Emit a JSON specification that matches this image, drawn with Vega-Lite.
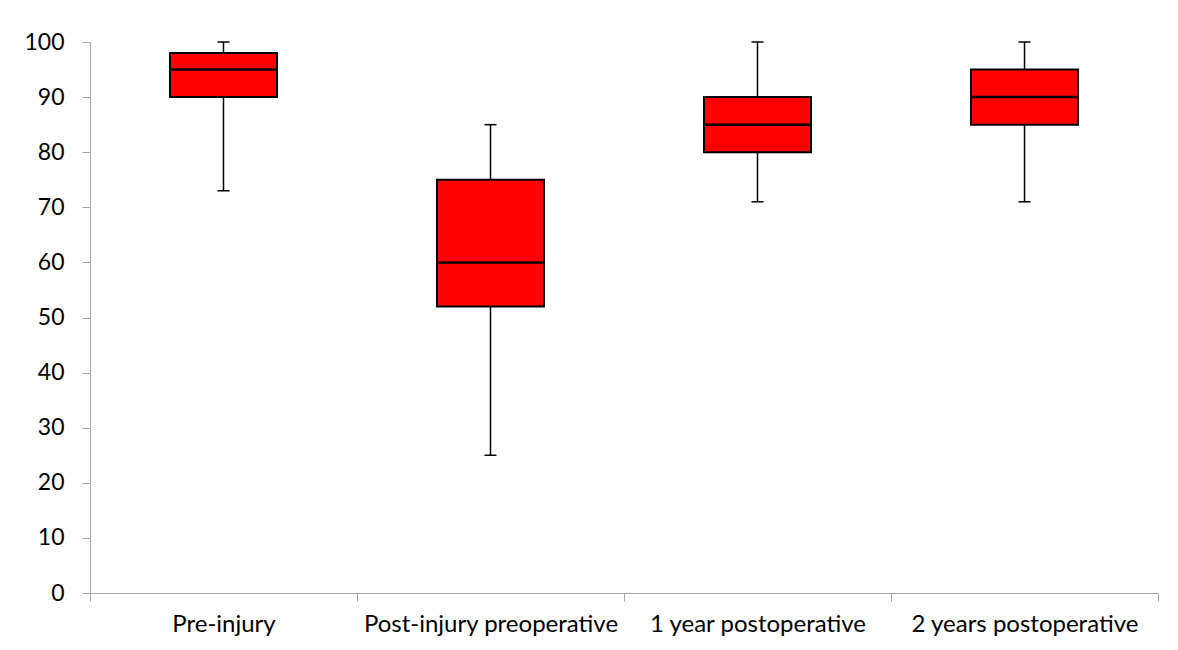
{
  "$schema": "https://vega.github.io/schema/vega-lite/v6.json",
  "autosize": {"type": "none"},
  "padding": {"left": 90, "top": 42, "right": 20, "bottom": 57},
  "width": 1068,
  "height": 551,
  "background": "white",
  "config": {
    "view": {"stroke": null},
    "font": "Lato",
    "axis": {"grid": false, "labelFont": "Lato", "labelColor": "black", "labelFontSize": 23, "labelLimit": 0, "domainColor": "#a6a6a6", "tickColor": "#a6a6a6", "tickSize": 8, "title": null}
  },
  "data": {
    "values": [
      {"cat": "Pre-injury", "min": 73, "q1": 90, "median": 95, "q3": 98, "max": 100},
      {"cat": "Post-injury preoperative", "min": 25, "q1": 52, "median": 60, "q3": 75, "max": 85},
      {"cat": "1 year postoperative", "min": 71, "q1": 80, "median": 85, "q3": 90, "max": 100},
      {"cat": "2 years postoperative", "min": 71, "q1": 85, "median": 90, "q3": 95, "max": 100}
    ]
  },
  "encoding": {
    "x": {
      "field": "cat", "type": "nominal", "sort": null,
      "scale": {"paddingInner": 0, "paddingOuter": 0},
      "axis": {"labelAngle": 0, "tickBand": "extent", "labelPadding": 11, "labelFontSize": 24, "domainWidth": 1, "tickWidth": 1}
    }
  },
  "layer": [
    {
      "mark": {"type": "rule", "color": "black", "strokeWidth": 1.5},
      "encoding": {
        "y": {"field": "min", "type": "quantitative", "scale": {"domain": [0, 100], "nice": false},
          "axis": {"values": [0,10,20,30,40,50,60,70,80,90,100], "labelPadding": 18, "domainWidth": 1, "tickWidth": 1}},
        "y2": {"field": "max"}
      }
    },
    {
      "mark": {"type": "bar", "size": 107, "fill": "#ff0000", "stroke": "black", "strokeWidth": 2},
      "encoding": {
        "y": {"field": "q1", "type": "quantitative"},
        "y2": {"field": "q3"}
      }
    },
    {
      "mark": {"type": "tick", "size": 107, "thickness": 2.5, "color": "black", "opacity": 1},
      "encoding": {"y": {"field": "median", "type": "quantitative"}}
    },
    {
      "mark": {"type": "tick", "size": 12, "thickness": 1.5, "color": "black", "opacity": 1},
      "encoding": {"y": {"field": "min", "type": "quantitative"}}
    },
    {
      "mark": {"type": "tick", "size": 12, "thickness": 1.5, "color": "black", "opacity": 1},
      "encoding": {"y": {"field": "max", "type": "quantitative"}}
    }
  ]
}
